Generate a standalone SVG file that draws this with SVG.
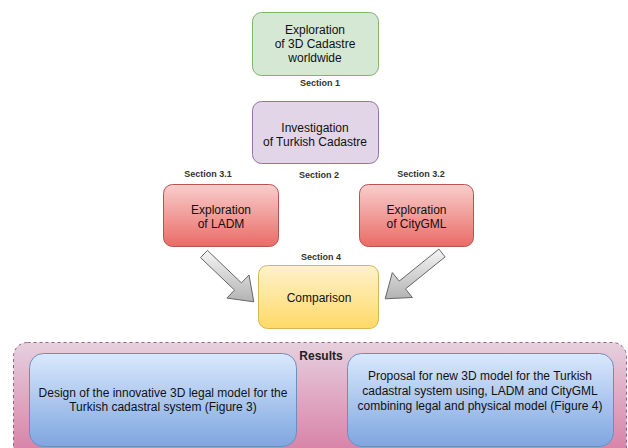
<svg xmlns="http://www.w3.org/2000/svg" width="628" height="448" viewBox="0 0 628 448">
<defs>
<linearGradient id="gRed" x1="0" y1="0" x2="0" y2="1"><stop offset="0" stop-color="#f8cecc"/><stop offset="1" stop-color="#ea6b66"/></linearGradient>
<linearGradient id="gYel" x1="0" y1="0" x2="0" y2="1"><stop offset="0" stop-color="#fff2cc"/><stop offset="1" stop-color="#ffd966"/></linearGradient>
<linearGradient id="gBlue" x1="0" y1="0" x2="0" y2="1"><stop offset="0" stop-color="#dae8fc"/><stop offset="1" stop-color="#7ea6e0"/></linearGradient>
<linearGradient id="gPink" x1="0" y1="0" x2="0" y2="1"><stop offset="0" stop-color="#e6d0de"/><stop offset="1" stop-color="#d5739d"/></linearGradient>
<linearGradient id="gGray" x1="0" y1="0" x2="0" y2="1"><stop offset="0" stop-color="#f5f5f5"/><stop offset="1" stop-color="#b3b3b3"/></linearGradient>
<style>
.t{font-family:"Liberation Sans",Arial,sans-serif;font-size:12px;fill:#111;text-anchor:middle}
.s{font-family:"Liberation Sans",Arial,sans-serif;font-size:9px;font-weight:bold;fill:#333;text-anchor:middle}
.b{font-family:"Liberation Sans",Arial,sans-serif;font-size:12px;font-weight:bold;fill:#222;text-anchor:middle}
.arrow{fill:url(#gGray);stroke:#666;stroke-width:1;stroke-linejoin:round}
</style>
</defs>

<g id="results">
<rect x="13.5" y="342.5" width="613" height="130" rx="14" fill="url(#gPink)" stroke="#996185" stroke-dasharray="3,3"/>
<text class="b" x="321" y="360">Results</text>
</g>

<g id="design">
<rect x="29.5" y="353.5" width="267" height="93" rx="14" fill="url(#gBlue)" stroke="#6c8ebf"/>
<text class="t" x="163" y="397">Design of the innovative 3D legal model for the</text>
<text class="t" x="163" y="411">Turkish cadastral system (Figure 3)</text>
</g>

<g id="proposal">
<rect x="347.5" y="353.5" width="266" height="93" rx="14" fill="url(#gBlue)" stroke="#6c8ebf"/>
<text class="t" x="480" y="380">Proposal for new 3D model for the Turkish</text>
<text class="t" x="480" y="395">cadastral system using, LADM and CityGML</text>
<text class="t" x="480" y="410">combining legal and physical model (Figure 4)</text>
</g>

<g id="worldwide">
<rect x="252.5" y="12.5" width="126" height="63" rx="9" fill="#d5e8d4" stroke="#82b366"/>
<text class="t" x="315" y="34">Exploration</text>
<text class="t" x="315" y="48">of 3D Cadastre</text>
<text class="t" x="315" y="62">worldwide</text>
</g>
<text class="s" x="320" y="86">Section 1</text>

<g id="turkish">
<rect x="252.5" y="101.5" width="126" height="62" rx="9" fill="#e1d5e7" stroke="#9673a6"/>
<text class="t" x="315" y="132">Investigation</text>
<text class="t" x="315" y="146">of Turkish Cadastre</text>
</g>
<text class="s" x="319" y="178">Section 2</text>
<text class="s" x="208" y="177">Section 3.1</text>
<text class="s" x="421" y="177">Section 3.2</text>

<g id="ladm">
<rect x="163.5" y="184.5" width="115" height="62" rx="9" fill="url(#gRed)" stroke="#b85450"/>
<text class="t" x="221" y="214">Exploration</text>
<text class="t" x="221" y="228">of LADM</text>
</g>

<g id="citygml">
<rect x="359.5" y="184.5" width="114" height="62" rx="9" fill="url(#gRed)" stroke="#b85450"/>
<text class="t" x="416.5" y="214">Exploration</text>
<text class="t" x="416.5" y="228">of CityGML</text>
</g>

<text class="s" x="321" y="260">Section 4</text>
<g id="comparison">
<rect x="258.5" y="265.5" width="120" height="63" rx="9" fill="url(#gYel)" stroke="#d6b656"/>
<text class="t" x="319" y="302">Comparison</text>
</g>

<g id="connectors">
<polygon class="arrow" points="207.5,250.4 241.4,282.9 249.0,275.0 253.8,301.8 226.9,298.1 234.5,290.1 200.5,257.6"/>
<polygon class="arrow" points="445.1,256.9 405.5,288.9 412.4,297.5 385.2,298.8 392.3,272.6 399.2,281.1 438.9,249.1"/>
</g>
</svg>
